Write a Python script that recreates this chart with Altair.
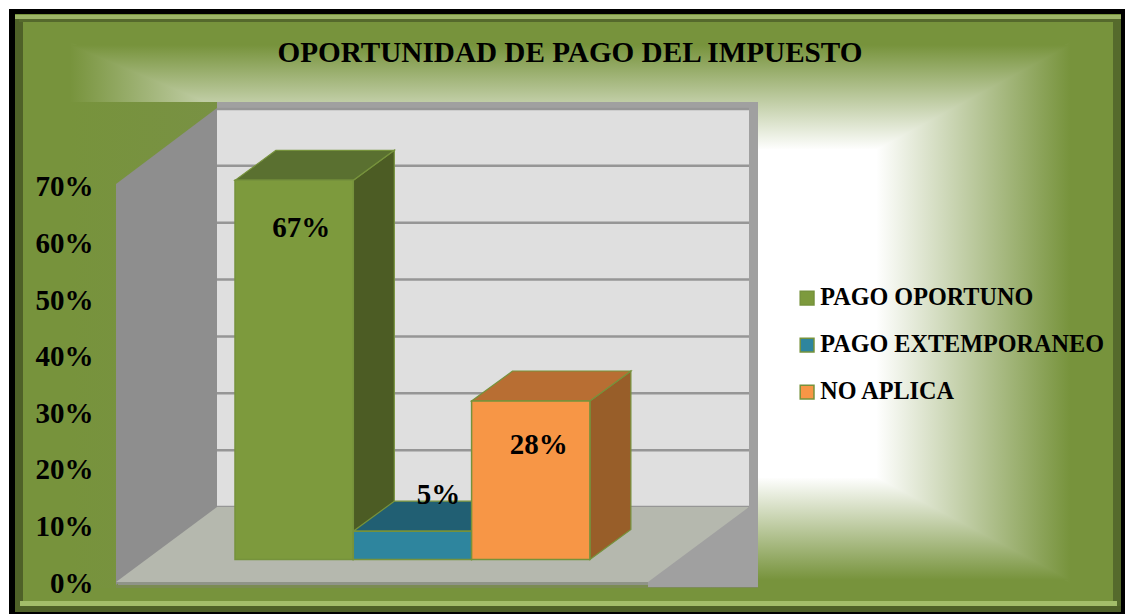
import altair as alt

TITLE = "OPORTUNIDAD DE PAGO DEL IMPUESTO"
categories = ["PAGO OPORTUNO", "PAGO EXTEMPORANEO", "NO APLICA"]
values = [67, 5, 28]
labels = ["67%", "5%", "28%"]
ticks = [0, 10, 20, 30, 40, 50, 60, 70]
front_colors = ["#7d9a3d", "#2e859e", "#f79646"]
top_colors = ["#5a7030", "#215f73", "#b86e33"]
side_colors = ["#4c5c24", "#1f5263", "#985e29"]
label_y_shift = [48, -36, 44]
label_x_shift = [7, 26, 8]

FONT = "Liberation Serif"
GREEN = "#77933c"
PX_PER_PCT = 5.66
ZERO_PX = 583.0
W, H = 1117, 606


def P(py):
    """image pixel row -> value on the percent scale"""
    return (ZERO_PX - py) / PX_PER_PCT


AXIS = alt.Axis(
    values=ticks,
    labelExpr="datum.value + '%'",
    title=None,
    domain=False,
    ticks=False,
    grid=False,
    offset=-85,
    labelPadding=0,
    labelFont=FONT,
    labelFontWeight="bold",
    labelFontSize=29,
    labelColor="#000000",
    zindex=1,
)
XS = alt.Scale(domain=[8, 8 + W], nice=False, zero=False)
YS = alt.Scale(domain=[P(8 + H), P(8)], nice=False, zero=False)
X = lambda f="x": alt.X(f"{f}:Q", scale=XS, axis=None)
Y = lambda f="y": alt.Y(f"{f}:Q", scale=YS, axis=AXIS)


def rect(x0, x1, y0, y1, fill):
    return alt.Chart(alt.Data(values=[dict(x=x0, x1=x1, y=P(y0), y1=P(y1))])).mark_rect(
        color=fill, strokeWidth=0, opacity=1
    ).encode(x=X(), x2="x1:Q", y=Y(), y2="y1:Q")


def grad(c0, c1, vertical):
    stops = [alt.GradientStop(color=c0, offset=0), alt.GradientStop(color=c1, offset=1)]
    return alt.LinearGradient(
        gradient="linear", stops=stops, x1=0, y1=0, x2=0 if vertical else 1, y2=1 if vertical else 0
    )


def htrap(y0, xa0, xa1, y1, xb0, xb1, fill):
    """parallel horizontal edges"""
    rows = [dict(y=y0, x=xa0, x1=xa1), dict(y=y1, x=xb0, x1=xb1)]
    return alt.Chart(alt.Data(values=rows)).mark_area(orient="horizontal", color=fill, opacity=1).encode(
        y=Y(), x=X(), x2="x1:Q"
    )


def vtrap(x0, ya0, ya1, x1, yb0, yb1, fill):
    """parallel vertical edges"""
    rows = [dict(x=x0, y=ya0, y1=ya1), dict(x=x1, y=yb0, y1=yb1)]
    return alt.Chart(alt.Data(values=rows)).mark_area(orient="vertical", color=fill, opacity=1).encode(
        x=X(), y=Y(), y2="y1:Q"
    )


layers = []
# frame (the page leaves 1117 px of width, so the right edge closes at 1125)
FR = 8 + W
layers.append(rect(9, FR, 9, 614, "#000000"))
layers.append(rect(15, FR - 4, 14, 612, GREEN))
layers.append(rect(15, 23, 15, 612, "#4f6128"))
layers.append(rect(FR - 12, FR - 4, 15, 612, "#556a2c"))
layers.append(rect(15, FR - 4, 15, 19, "#9db668"))
layers.append(rect(19, FR - 8, 19, 22, "#55692c"))
layers.append(rect(15, FR - 4, 606, 612, "#4f6128"))
layers.append(rect(20, FR - 8, 601, 606, "#a3bd6a"))
layers.append(rect(23, FR - 12, 22, 601, GREEN))

# background pyramid
WL, WR, WT, WB = 320, 876, 150, 477
OL, OR, OT, OB = 70, 1070, 45, 580
LAP = 3
layers.append(vtrap(OL, P(OT - LAP), P(OB + LAP), WL, P(WT - LAP), P(WB + LAP), grad(GREEN, "#ffffff", False)))
layers.append(vtrap(WR, P(WT - LAP), P(WB + LAP), OR, P(OT - LAP), P(OB + LAP), grad("#ffffff", GREEN, False)))
layers.append(htrap(P(OT), OL, OR, P(WT), WL, WR, grad(GREEN, "#ffffff", True)))
layers.append(htrap(P(WB), WL, WR, P(OB), OL, OR, grad("#ffffff", GREEN, True)))
layers.append(rect(WL - 1, WR + 1, WT - 1, WB + 1, "#ffffff"))

# plot area
layers.append(rect(70, 758, 102, 588, grad(GREEN, "#7e8a5f", False)))
layers.append(rect(217, 758, 102, 587, "#a0a0a0"))
layers.append(vtrap(116, P(184), P(585), 217, P(108), P(509), "#8e8e8e"))
layers.append(rect(217, 749, 108, 507, "#dfdfdf"))
# gridlines on the back wall
grid = [dict(x=217, x1=749, y=P(507) + v * 398 / 70 / PX_PER_PCT) for v in ticks]
layers.append(
    alt.Chart(alt.Data(values=grid)).mark_rule(color="#969696", strokeWidth=2.5).encode(x=X(), x2="x1:Q", y=Y())
)
# floor
layers.append(htrap(P(507), 217, 749, P(582), 116, 648, "#b5b8ae"))
layers.append(rect(118, 648, 582, 585, "#8f9488"))
layers.append(rect(116, 648, 585, 588, "#7b8c52"))

# bars
BASE_PX = 559.5
BAR_W = 118.3
BAR_X0 = 235
DX, DY = 41, 30
shift = P(BASE_PX)
dep = DY / PX_PER_PCT
EDGE = "#76923c"
rows = []
for i, (c, v) in enumerate(zip(categories, values)):
    x0 = BAR_X0 + i * BAR_W
    x1 = x0 + BAR_W
    rows.append(dict(cat=c, x=x0, x1=x1, y=shift, y1=shift + v))
    side = [dict(x=x1, y=shift, y1=shift + v), dict(x=x1 + DX, y=shift + dep, y1=shift + v + dep)]
    top = [dict(y=shift + v, x=x0, x1=x1), dict(y=shift + v + dep, x=x0 + DX, x1=x1 + DX)]
    layers.append(
        alt.Chart(alt.Data(values=side))
        .mark_area(orient="vertical", color=side_colors[i], opacity=1, stroke=EDGE, strokeWidth=1.2)
        .encode(x=X(), y=Y(), y2="y1:Q")
    )
    layers.append(
        alt.Chart(alt.Data(values=top))
        .mark_area(orient="horizontal", color=top_colors[i], opacity=1, stroke=EDGE, strokeWidth=1.2)
        .encode(y=Y(), x=X(), x2="x1:Q")
    )

layers.append(
    alt.Chart(alt.Data(values=rows))
    .mark_rect(stroke=EDGE, strokeWidth=1.5, opacity=1)
    .encode(
        x=X(),
        x2="x1:Q",
        y=Y(),
        y2="y1:Q",
        fill=alt.Color(
            "cat:N",
            scale=alt.Scale(domain=categories, range=front_colors),
            sort=categories,
            legend=alt.Legend(
                orient="none",
                legendX=787,
                legendY=278,
                title=None,
                padding=0,
                symbolType="square",
                symbolSize=190,
                symbolStrokeColor=EDGE,
                symbolStrokeWidth=1.5,
                symbolOpacity=1,
                labelFont=FONT,
                labelFontWeight="bold",
                labelFontSize=24.2,
                labelColor="#000000",
                labelOffset=1,
                labelLimit=400,
                rowPadding=22,
            ),
        ),
    )
)

# data labels
lab = [
    dict(x=BAR_X0 + (i + 0.5) * BAR_W + dx, y=shift + v - s / PX_PER_PCT, t=t)
    for i, (v, s, t, dx) in enumerate(zip(values, label_y_shift, labels, label_x_shift))
]
layers.append(
    alt.Chart(alt.Data(values=lab))
    .mark_text(font=FONT, fontWeight="bold", fontSize=29, color="#000000")
    .encode(x=X(), y=Y(), text="t:N")
)
# title
layers.append(
    alt.Chart(alt.Data(values=[dict(x=570, y=P(53), t=TITLE)]))
    .mark_text(font=FONT, fontWeight="bold", fontSize=29.2, color="#000000")
    .encode(x=X(), y=Y(), text="t:N")
)

chart = (
    alt.layer(*layers)
    .properties(width=W, height=H, padding=0, autosize=alt.AutoSizeParams(type="none"))
    .configure_view(stroke=None)
)
chart.save("out.html", embed_options={"renderer": "svg", "actions": False})
